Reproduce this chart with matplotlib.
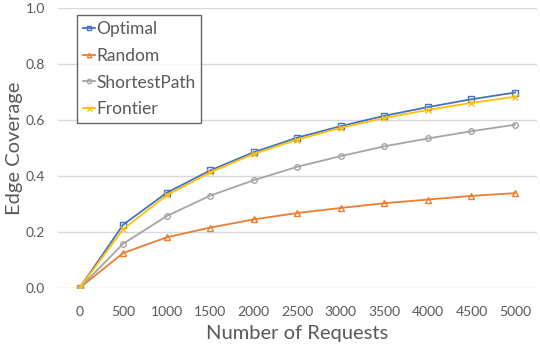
import matplotlib
matplotlib.use("Agg")
import matplotlib.pyplot as plt

# Données
requests = ["0", "500", "1000", "1500", "2000", "2500", "3000", "3500", "4000", "4500", "5000"]
optimal = [0.0, 0.226, 0.340, 0.420, 0.485, 0.537, 0.578, 0.615, 0.646, 0.674, 0.698]
random_ = [0.0, 0.125, 0.181, 0.216, 0.245, 0.268, 0.286, 0.303, 0.316, 0.329, 0.339]
shortest = [0.0, 0.158, 0.257, 0.330, 0.385, 0.433, 0.471, 0.506, 0.534, 0.560, 0.583]
frontier = [0.0, 0.210, 0.331, 0.413, 0.479, 0.530, 0.572, 0.607, 0.636, 0.661, 0.683]

plt.rcParams['font.family'] = ['Lato', 'DejaVu Sans']

fig = plt.figure(figsize=(5.4, 3.45), dpi=100)
ax = fig.add_axes([0.107, 0.165, 0.887, 0.812])

x = range(len(requests))
ax.plot(x, optimal, color='#4472C4', marker='s', mfc='none', ms=4, mew=1, lw=1.3, label='Optimal')
ax.plot(x, random_, color='#ED7D31', marker='^', mfc='none', ms=4, mew=1, lw=1.3, label='Random')
ax.plot(x, shortest, color='#A5A5A5', marker='o', mfc='none', ms=4, mew=1, lw=1.3, label='ShortestPath')
ax.plot(x, frontier, color='#FFC000', marker='x', ms=4.5, mew=1, lw=1.3, label='Frontier')

ax.set_xlim(-0.5, len(requests) - 0.5)
ax.set_ylim(0, 1.0)
ax.set_xticks(list(x))
ax.set_xticklabels(requests)
ax.set_yticks([0, 0.2, 0.4, 0.6, 0.8, 1.0])
ax.set_yticklabels(['0.0', '0.2', '0.4', '0.6', '0.8', '1.0'])
ax.tick_params(length=0, labelsize=10, labelcolor='#595959')
ax.tick_params(axis='x', pad=13)
ax.tick_params(axis='y', pad=9)
ax.yaxis.grid(True, color='#D9D9D9', lw=1)
ax.set_axisbelow(True)
for s in ax.spines.values():
    s.set_visible(False)

ax.set_xlabel('Number of Requests', fontsize=14.5, color='#595959', labelpad=5)
ax.set_ylabel('Edge Coverage', fontsize=14.5, color='#595959')
ax.yaxis.set_label_coords(-0.073, 0.5)

leg = ax.legend(loc='upper left', bbox_to_anchor=(0.04, 0.975), fontsize=12.5,
                frameon=True, fancybox=False, handlelength=0.7, handletextpad=0.05,
                borderpad=0.35, labelspacing=0.62, borderaxespad=0, labelcolor='#595959',
                markerscale=0.8)
leg.get_frame().set_edgecolor('#404040')
leg.get_frame().set_linewidth(1.0)

fig.savefig('out.png', dpi=100)
